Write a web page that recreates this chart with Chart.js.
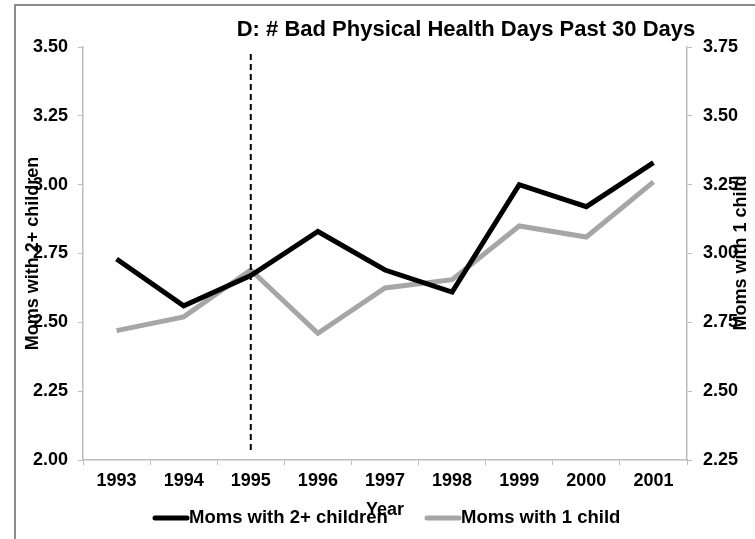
<!DOCTYPE html>
<html>
<head>
<meta charset="utf-8">
<script src="https://cdn.jsdelivr.net/npm/chart.js@4"></script>
<style>
  html, body { margin: 0; padding: 0; background: #fff; }
  #wrap { width: 755px; height: 539px; }
</style>
</head>
<body>
<div id="wrap"><canvas id="myChart" width="755" height="539"></canvas></div>
<script>
// data
const years = ['1993', '1994', '1995', '1996', '1997', '1998', '1999', '2000', '2001'];
const momsTwoPlus = [2.73, 2.56, 2.67, 2.83, 2.69, 2.61, 3.00, 2.92, 3.08];
const momsOne = [2.72, 2.77, 2.94, 2.71, 2.875, 2.905, 3.10, 3.06, 3.26];
const leftTicks = [2.00, 2.25, 2.50, 2.75, 3.00, 3.25, 3.50];
const rightTicks = [2.25, 2.50, 2.75, 3.00, 3.25, 3.50, 3.75];
const markerYear = '1995';
const chartTitle = 'D: # Bad Physical Health Days Past 30 Days';
const leftTitle = 'Moms with 2+ children';
const rightTitle = 'Moms with 1 child';
const xTitle = 'Year';

const FONT = "'Liberation Sans', Arial, sans-serif";
const axisGray = '#bdbdbd';

// frame, title, dashed marker, right title, legend
const extras = {
  id: 'extras',
  beforeDraw(chart) {
    const c = chart.ctx;
    c.save();
    c.strokeStyle = '#8c8c8c';
    c.lineWidth = 2;
    c.strokeRect(15, 5, 900, 700);
    c.restore();
  },
  afterDatasetsDraw(chart) {
    const c = chart.ctx;
    const x = chart.scales.x.getPixelForValue(years.indexOf(markerYear));
    c.save();
    c.strokeStyle = '#000';
    c.lineWidth = 2;
    c.setLineDash([6, 4]);
    c.beginPath();
    c.moveTo(x, 54);
    c.lineTo(x, 453);
    c.stroke();
    c.restore();
  },
  afterDraw(chart) {
    const c = chart.ctx;
    c.save();
    c.fillStyle = '#000';
    c.font = 'bold 22px ' + FONT;
    c.textAlign = 'center';
    c.textBaseline = 'middle';
    c.fillText(chartTitle, 466, 30);

    // right axis title reads bottom to top
    c.font = 'bold 18px ' + FONT;
    c.translate(741, 253);
    c.rotate(-Math.PI / 2);
    c.fillText(rightTitle, 0, 0);
    c.restore();

    // legend
    const items = [
      { label: chart.data.datasets[0].label, color: chart.data.datasets[0].borderColor, x: 153 },
      { label: chart.data.datasets[1].label, color: chart.data.datasets[1].borderColor, x: 425 }
    ];
    c.save();
    c.font = 'bold 18.5px ' + FONT;
    c.textBaseline = 'middle';
    items.forEach(it => {
      c.strokeStyle = it.color;
      c.lineWidth = 5;
      c.lineCap = 'round';
      c.beginPath();
      c.moveTo(it.x + 2, 518);
      c.lineTo(it.x + 34, 518);
      c.stroke();
      c.fillStyle = '#000';
      c.fillText(it.label, it.x + 36, 518);
    });
    c.restore();
  }
};

const ctx = document.getElementById('myChart');

new Chart(ctx, {
  type: 'line',
  data: {
    labels: years,
    datasets: [{
      label: 'Moms with 2+ children',
      data: momsTwoPlus,
      yAxisID: 'y',
      borderColor: '#000000',
      backgroundColor: '#000000',
      borderWidth: 5,
      pointRadius: 0,
      tension: 0
    }, {
      label: 'Moms with 1 child',
      data: momsOne,
      yAxisID: 'y2',
      borderColor: '#a6a6a6',
      backgroundColor: '#a6a6a6',
      borderWidth: 5,
      pointRadius: 0,
      tension: 0
    }]
  },
  options: {
    responsive: false,
    animation: false,
    layout: { padding: { top: 47, left: 0, right: 0, bottom: 0 } },
    plugins: {
      legend: { display: false },
      title: { display: false },
      tooltip: { enabled: false }
    },
    scales: {
      x: {
        offset: true,
        grid: { offset: true, drawOnChartArea: false, drawTicks: true, tickLength: 5, color: axisGray },
        border: { color: axisGray, width: 1.5 },
        ticks: { color: '#000', padding: 5, font: { family: FONT, size: 18, weight: 'bold' }, maxRotation: 0 },
        title: { display: true, text: xTitle, color: '#000', padding: 18, font: { family: FONT, size: 18, weight: 'bold' } },
        afterFit(scale) { scale.height = 79; }
      },
      y: {
        position: 'left',
        min: 2.0,
        max: 3.5,
        afterBuildTicks(scale) { scale.ticks = leftTicks.map(v => ({ value: v })); },
        grid: { drawOnChartArea: false, drawTicks: true, tickLength: 5, color: axisGray },
        border: { color: axisGray, width: 1.5 },
        ticks: { color: '#000', padding: 10, font: { family: FONT, size: 18, weight: 'bold' }, callback: v => Number(v).toFixed(2) },
        title: { display: true, text: leftTitle, color: '#000', padding: 22, font: { family: FONT, size: 18, weight: 'bold' } },
        afterFit(scale) { scale.width = 83; }
      },
      y2: {
        position: 'right',
        min: 2.25,
        max: 3.75,
        afterBuildTicks(scale) { scale.ticks = rightTicks.map(v => ({ value: v })); },
        grid: { drawOnChartArea: false, drawTicks: true, tickLength: 5, color: axisGray },
        border: { color: axisGray, width: 1.5 },
        ticks: { color: '#000', padding: 11, font: { family: FONT, size: 18, weight: 'bold' }, callback: v => Number(v).toFixed(2) },
        afterFit(scale) { scale.width = 68; }
      }
    }
  },
  plugins: [extras]
});
</script>
</body>
</html>
